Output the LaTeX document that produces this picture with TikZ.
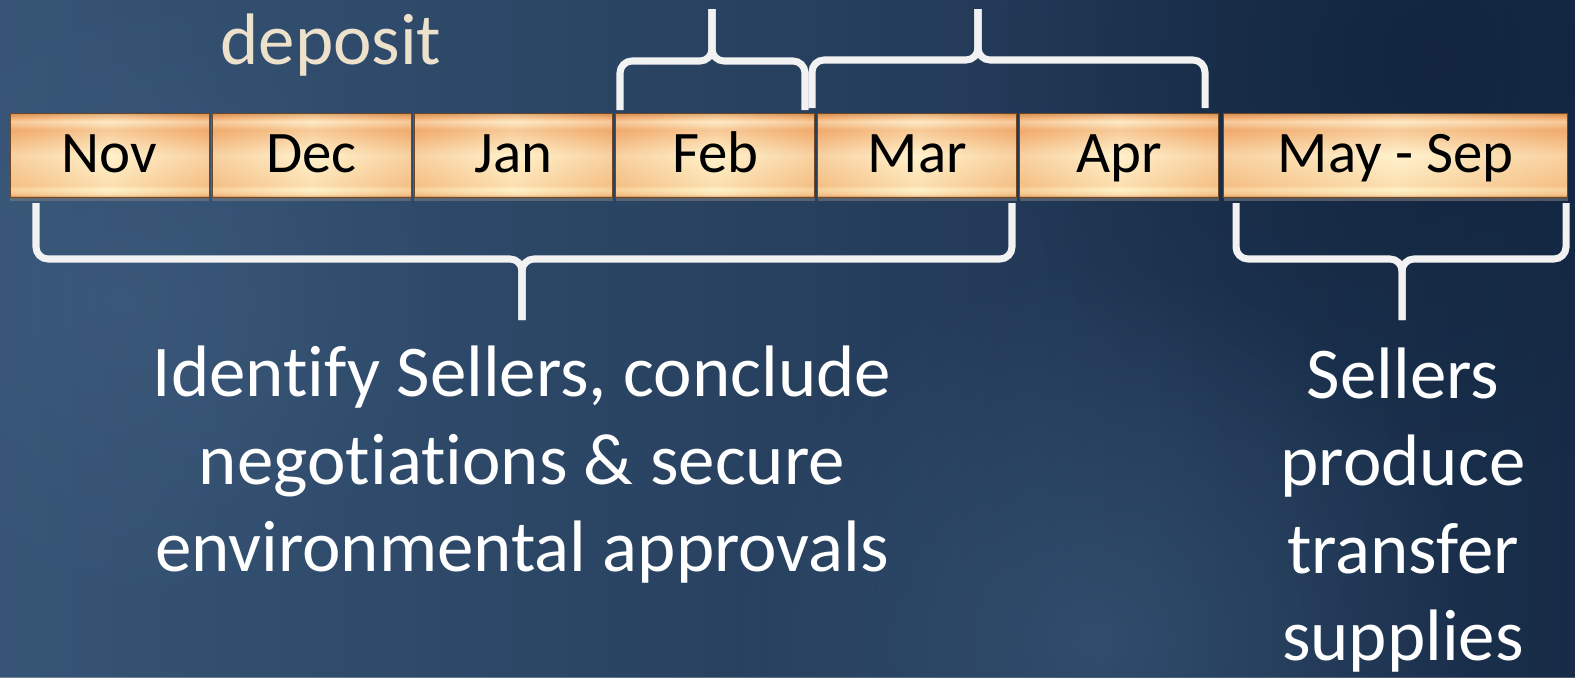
\documentclass[tikz,border=0pt]{standalone}
\usepackage{fontspec}
\setmainfont{Carlito}[Ligatures=NoCommon]
\usetikzlibrary{
  positioning,
  shadows,
  fadings
}

\definecolor{bgdark}{HTML}{11233D}
\definecolor{bgmid}{HTML}{2A4666}
\definecolor{bglight}{HTML}{3C5A7C}
\definecolor{boxedge}{HTML}{B9763C}
\definecolor{boxorange}{HTML}{F1AA6C}
\definecolor{boxpale}{HTML}{FDE7C6}
\definecolor{boxcream}{HTML}{FFF2CD}
\definecolor{boxlow}{HTML}{F9D29A}
\definecolor{boxhigh}{HTML}{FFF5C8}
\definecolor{bracewhite}{HTML}{F2F2F2}
\definecolor{deposittext}{HTML}{EEE1CB}

\pgfdeclareverticalshading{monthbar}{100bp}{
  color(0bp)=(boxedge); color(25bp)=(boxedge); color(26.5bp)=(boxlow);
  color(29.5bp)=(boxhigh); color(32bp)=(boxlow); color(50bp)=(boxcream);
  color(65bp)=(boxorange); color(70bp)=(boxpale); color(72.5bp)=(boxorange);
  color(75bp)=(boxedge); color(100bp)=(boxedge)}

\tikzfading[name=softspot, inner color=transparent!0, outer color=transparent!100]
\tikzfading[name=softband, top color=transparent!100, middle color=transparent!0, bottom color=transparent!100]

\begin{document}
\begin{tikzpicture}[x=0.02cm, y=-0.02cm, node distance = 0.06cm,
    month/.style={shading=monthbar, draw=boxedge!60!black, line width=0.5pt,
      minimum width=3.98cm, minimum height=1.68cm, inner sep=0pt, outer sep=0pt,
      text height=24pt, text depth=4.6pt,
      font=\fontsize{33.5}{38}\selectfont, text=black,
      drop shadow={shadow xshift=0pt, shadow yshift=-2.5pt, opacity=0.55},
      path picture={\shade[left color=boxorange, right color=boxorange, middle color=boxcream, opacity=0.45]
        (path picture bounding box.south west) rectangle (path picture bounding box.north east);}},
    brace/.style={draw=bracewhite, line width=4pt, rounded corners=0.24cm},
    maintext/.style={text=white, align=center, inner sep=0pt,
      font=\fontsize{41.5}{49.8}\selectfont}]
    \useasboundingbox (0,0) rectangle (1575,677);

    \fill[bgmid] (0,0) rectangle (1575,677);
    \shade[left color=bglight, right color=bgdark, opacity=0.75] (0,0) rectangle (1575,677);
    \fill[bgdark, path fading=softspot, opacity=0.8] (1420,60) circle (420);
    \fill[bglight, path fading=softspot, opacity=0.6] (1100,640) circle (380);
    \fill[bglight, path fading=softspot, opacity=0.7] (120,300) circle (330);
    \fill[white, opacity=0.05, path fading=softband, rotate around={28:(500,260)}] (-200,200) rectangle (1200,320);
    \fill[white, opacity=0.04, path fading=softband, rotate around={-12:(1100,580)}] (500,540) rectangle (1800,620);

    \node[month] (nov) at (109.5,155) {Nov};
    \node[month,right = of nov] (dec) {Dec};
    \node[month,right = of dec] (jan) {Jan};
    \node[month,right = of jan] (feb) {Feb};
    \node[month,right = of feb] (mar) {Mar};
    \node[month,right = of mar] (apr) {Apr};
    \node[month,right = 0.1cm of apr,minimum width=6.88cm] (may) {May - Sep};

    \node[text=deposittext,inner sep=0pt,font=\fontsize{41.5}{48}\selectfont] (deposit) at (331,45) {deposit};

    \coordinate (febL) at (620,110);
    \coordinate (febR) at (805,110);
    \coordinate (febT) at (712,9);
    \coordinate (sprL) at (812,108);
    \coordinate (sprR) at (1205,108);
    \coordinate (sprT) at (978,9);
    \coordinate (winL) at (36,203);
    \coordinate (winR) at (1012,203);
    \coordinate (winB) at (522,320);
    \coordinate (sumL) at (1236,203);
    \coordinate (sumR) at (1566,203);
    \coordinate (sumB) at (1402,320);

    \draw[brace] (febL) -- (620,61) -- (712,61) -- (febT);
    \draw[brace] (febR) -- (805,61) -- (712,61) -- (febT);
    \draw[brace] (sprL) -- (812,60) -- (978,60) -- (sprT);
    \draw[brace] (sprR) -- (1205,60) -- (978,60) -- (sprT);
    \draw[brace] (winL) -- (36,259) -- (522,259) -- (winB);
    \draw[brace] (winR) -- (1012,259) -- (522,259) -- (winB);
    \draw[brace] (sumL) -- (1236,259) -- (1402,259) -- (sumB);
    \draw[brace] (sumR) -- (1566,259) -- (1402,259) -- (sumB);

    \node[maintext] (identify) at (522,465) {Identify Sellers, conclude\\negotiations \& secure\\environmental approvals};
    \node[maintext] (sellers) at (1403,510) {Sellers\\produce\\transfer\\supplies};
  \end{tikzpicture}
\end{document}
